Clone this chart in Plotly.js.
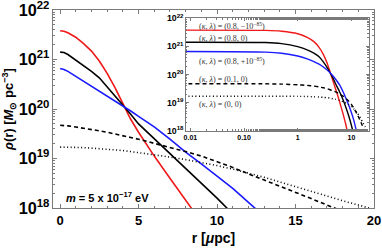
<!DOCTYPE html>
<html>
<head>
<meta charset="utf-8">
<script src="https://cdn.plot.ly/plotly-3.0.1.min.js"></script>
<style>html,body{margin:0;padding:0;background:#fff;}#plot{width:382px;height:250px;}</style>
</head>
<body>
<div id="plot"></div>
<script>
// radius grid [μpc]
const r = [0.005, 0.25, 0.5, 1, 1.5, 2, 2.5, 3, 3.5, 4, 4.5, 5, 6, 7, 8, 9, 10, 11, 12, 13, 14, 15, 16, 17, 18, 19, 20];
// density [M_sun pc^-3]
const rhoRed = [3.8e21, 3.72e21, 3.47e21, 2.82e21, 2.09e21, 1.48e21, 9.3e20, 5.25e20, 2.69e20, 1.26e20, 6.2e19, 3.39e19, 1.12e19, 3.98e18, 1.48e18, 5.2e17];
const rhoBlack = [1.41e21, 1.38e21, 1.26e21, 9.8e20, 7.6e20, 5.75e20, 4.27e20, 2.82e20, 1.82e20, 1.17e20, 7.8e19, 5.0e19, 2.51e19, 1.26e19, 6.3e18, 3.2e18, 1.58e18, 7.6e17];
const rhoBlue = [6.6e20, 6.3e20, 5.75e20, 4.57e20, 3.63e20, 2.88e20, 2.34e20, 1.86e20, 1.48e20, 1.15e20, 9.1e19, 7.1e19, 4.37e19, 2.45e19, 1.35e19, 7.8e18, 4.5e18, 2.5e18, 1.3e18, 6.8e17];
const rhoDashed = [4.68e19, 4.68e19, 4.57e19, 4.32e19, 4.12e19, 3.89e19, 3.63e19, 3.39e19, 3.16e19, 2.88e19, 2.66e19, 2.45e19, 2.04e19, 1.70e19, 1.38e19, 1.12e19, 8.7e18, 6.6e18, 4.9e18, 3.7e18, 2.75e18, 2.06e18, 1.55e18, 1.15e18, 8.6e17];
const rhoDotted = [1.70e19, 1.70e19, 1.70e19, 1.68e19, 1.66e19, 1.62e19, 1.58e19, 1.55e19, 1.50e19, 1.45e19, 1.38e19, 1.32e19, 1.20e19, 1.07e19, 9.5e18, 8.3e18, 7.2e18, 6.1e18, 5.1e18, 4.17e18, 3.35e18, 2.69e18, 2.14e18, 1.72e18, 1.40e18, 1.15e18, 9.3e17];
const seriesLabels = [
  "(<i>κ</i>, <i>λ</i>) = (0.8, −10<sup>−85</sup>)",
  "(<i>κ</i>, <i>λ</i>) = (0.8, 0)",
  "(<i>κ</i>, <i>λ</i>) = (0.8, +10<sup>−85</sup>)",
  "(<i>κ</i>, <i>λ</i>) = (0.1, 0)",
  "(<i>κ</i>, <i>λ</i>) = (0, 0)"
];
const insetTickVals = [0.01, 0.1, 1, 10];
const insetTickText = ["0.01", "0.10", "1", "10"];
const massLabel = "<i>m</i> = 5 x 10<sup>−17</sup> eV";

const series = [
  {y: rhoRed, color: '#f01818', dash: 'solid'},
  {y: rhoBlack, color: '#000000', dash: 'solid'},
  {y: rhoBlue, color: '#1a1aff', dash: 'solid'},
  {y: rhoDashed, color: '#000000', dash: '4px,3px'},
  {y: rhoDotted, color: '#000000', dash: '1px,2.5px'}
];

const traces = [];
series.forEach(s => {
  const x = r.slice(0, s.y.length);
  traces.push({x: x, y: s.y, type: 'scatter', mode: 'lines', xaxis: 'x', yaxis: 'y',
    line: {color: s.color, width: 1.6, dash: s.dash, shape: 'linear'}, hoverinfo: 'skip'});
  traces.push({x: x, y: s.y, type: 'scatter', mode: 'lines', xaxis: 'x2', yaxis: 'y2',
    line: {color: s.color, width: 1.4, dash: s.dash, shape: 'spline', smoothing: 0.5}, hoverinfo: 'skip'});
});

const FONT = 'Liberation Sans, Arial, sans-serif';
const frame = '#7a7a7a';

const labelY = [21.71, 21.27, 20.47, 19.82, 18.95];
const annotations = seriesLabels.map((t, i) => ({
  text: t, xref: 'x2', yref: 'y2', x: -1.88, y: labelY[i], xanchor: 'left', yanchor: 'middle',
  showarrow: false, font: {family: 'Liberation Serif, serif', size: 8, color: '#333'}
}));
annotations.push({
  text: massLabel, xref: 'paper', yref: 'paper', x: 0.035, y: 0.056, xanchor: 'left', yanchor: 'middle',
  showarrow: false, font: {family: FONT, size: 11, color: '#000', weight: 'bold'}
});

const layout = {
  width: 382, height: 250,
  margin: {l: 53, r: 8, t: 10, b: 42},
  paper_bgcolor: '#fff', plot_bgcolor: '#fff',
  showlegend: false,
  font: {family: FONT, color: '#000'},
  xaxis: {
    domain: [0, 1], range: [-0.45, 20], tickvals: [0, 5, 10, 15, 20],
    ticks: 'inside', ticklen: 4, tickcolor: frame, showgrid: false, zeroline: false,
    showline: true, linecolor: frame, linewidth: 1, mirror: 'ticks', ticklabeloverflow: 'allow',
    minor: {dtick: 1, ticks: 'inside', ticklen: 2, tickcolor: frame, showgrid: false},
    tickfont: {family: FONT, size: 13, weight: 'bold'},
    title: {text: 'r [<i>μ</i>pc]', font: {family: FONT, size: 14, weight: 'bold'}, standoff: 6}
  },
  yaxis: {
    domain: [0, 1], type: 'log', range: [18, 22.0001], dtick: 1, exponentformat: 'power',
    ticks: 'inside', ticklen: 4, tickcolor: frame, showgrid: false, zeroline: false,
    showline: true, linecolor: frame, linewidth: 1, mirror: 'ticks', ticklabeloverflow: 'allow',
    minor: {ticks: 'inside', ticklen: 2, tickcolor: frame, showgrid: false},
    tickfont: {family: FONT, size: 13, weight: 'bold'},
    title: {text: '<i>ρ</i>(r) [<i>M</i><sub>⊙</sub> pc<sup>−3</sup>]', font: {family: FONT, size: 13, weight: 'bold'}, standoff: 4}
  },
  xaxis2: {
    anchor: 'y2', domain: [0.414, 0.984], type: 'log', range: [-2.084, 1.326],
    tickvals: insetTickVals, ticktext: insetTickText,
    ticks: 'inside', ticklen: 3, tickcolor: frame, showgrid: false, zeroline: false,
    showline: true, linecolor: frame, linewidth: 1, mirror: 'ticks',
    minor: {ticks: 'inside', ticklen: 1.5, tickcolor: frame, showgrid: false},
    tickfont: {family: FONT, size: 7, weight: 'bold'}
  },
  yaxis2: {
    anchor: 'x2', domain: [0.390, 0.958], type: 'log', range: [18, 22.0001], dtick: 1, exponentformat: 'power',
    ticks: 'inside', ticklen: 3, tickcolor: frame, showgrid: false, zeroline: false,
    showline: true, linecolor: frame, linewidth: 1, mirror: 'ticks',
    minor: {ticks: 'inside', ticklen: 1.5, tickcolor: frame, showgrid: false},
    tickfont: {family: FONT, size: 7, weight: 'bold'}
  },
  annotations: annotations
};

Plotly.newPlot('plot', traces, layout, {displayModeBar: false});
</script>
</body>
</html>
